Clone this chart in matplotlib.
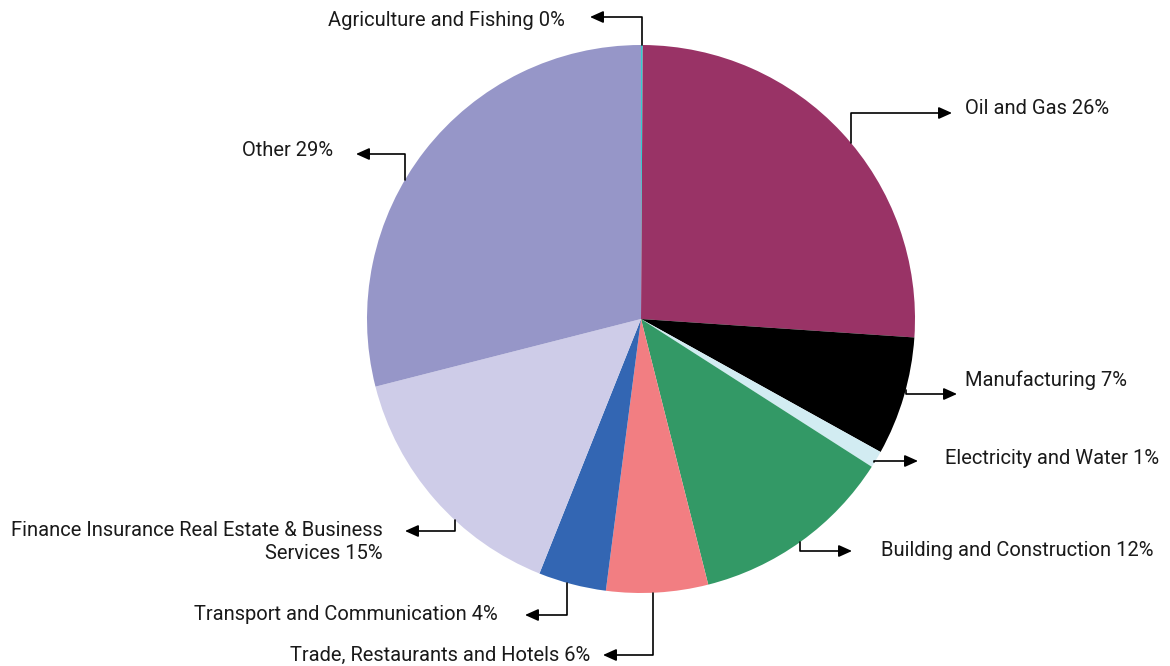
import numpy as np
import matplotlib.pyplot as plt

plt.rcParams['font.family'] = ['Roboto', 'DejaVu Sans']

# sector shares of GDP (%)
sectors = ['Agriculture and Fishing', 'Oil and Gas', 'Manufacturing',
           'Electricity and Water', 'Building and Construction',
           'Trade, Restaurants and Hotels', 'Transport and Communication',
           'Finance Insurance Real Estate & Business\nServices', 'Other']
shares = [0.1, 26, 7, 1, 12, 6, 4, 15, 29]
colors = ['#33CCCC', '#993366', '#000000', '#D2ECF2', '#339966',
          '#F27E82', '#3366B3', '#CECCE8', '#9696C8']

# callout layout: where on the wedge the leader starts (fraction of its arc),
# height of the horizontal run, arrow tip x, text x
where = [0.5, 0.53, 0.44, 0.7, 0.51, 0.54, 0.57, 0.39, 0.43]
run_y = [17, 113, 394, 461, 551, 655, 615, 531, 154]
tip_x = [590, 952, 957, 918, 852, 603, 525, 405, 356]
text_x = [565, 965, 965, 945, 881, 590, 498, 383, 333]
text_y = [20, 108, 380, 458, 550, 655, 614, 542, 151]

W, H = 1170, 666
cx, cy, r = 641, H - 319, 274

fig = plt.figure(figsize=(W / 100, H / 100), dpi=100)
ax = fig.add_axes([0, 0, 1, 1])
wedges, _ = ax.pie(shares, colors=colors, startangle=90, counterclock=False,
                   center=(cx, cy), radius=r,
                   wedgeprops=dict(linewidth=0))
ax.set_xlim(0, W)
ax.set_ylim(0, H)
ax.set_aspect('equal')
ax.axis('off')

total = sum(shares)
start = 0.0
for i, (name, val) in enumerate(zip(sectors, shares)):
    frac = (start + where[i] * val) / total
    start += val
    theta = 2 * np.pi * frac  # clockwise from the top
    ax_x = cx + r * np.sin(theta)
    ax_y = cy + r * np.cos(theta)
    ly = H - run_y[i]
    ax.annotate('', xy=(tip_x[i], ly), xytext=(ax_x, ax_y),
                arrowprops=dict(arrowstyle='-|>,head_length=0.4,head_width=0.18',
                                mutation_scale=20, color='black', lw=1.2,
                                shrinkA=0, shrinkB=0,
                                connectionstyle='angle,angleA=90,angleB=0,rad=0'))
    right = tip_x[i] < ax_x
    ax.text(text_x[i], H - text_y[i], f'{name} {round(val)}%',
            ha='right' if right else 'left', va='center',
            multialignment='right' if right else 'left',
            fontsize=14.5, color='#1a1a1a', linespacing=1.27)

fig.savefig('out.png', dpi=100)
